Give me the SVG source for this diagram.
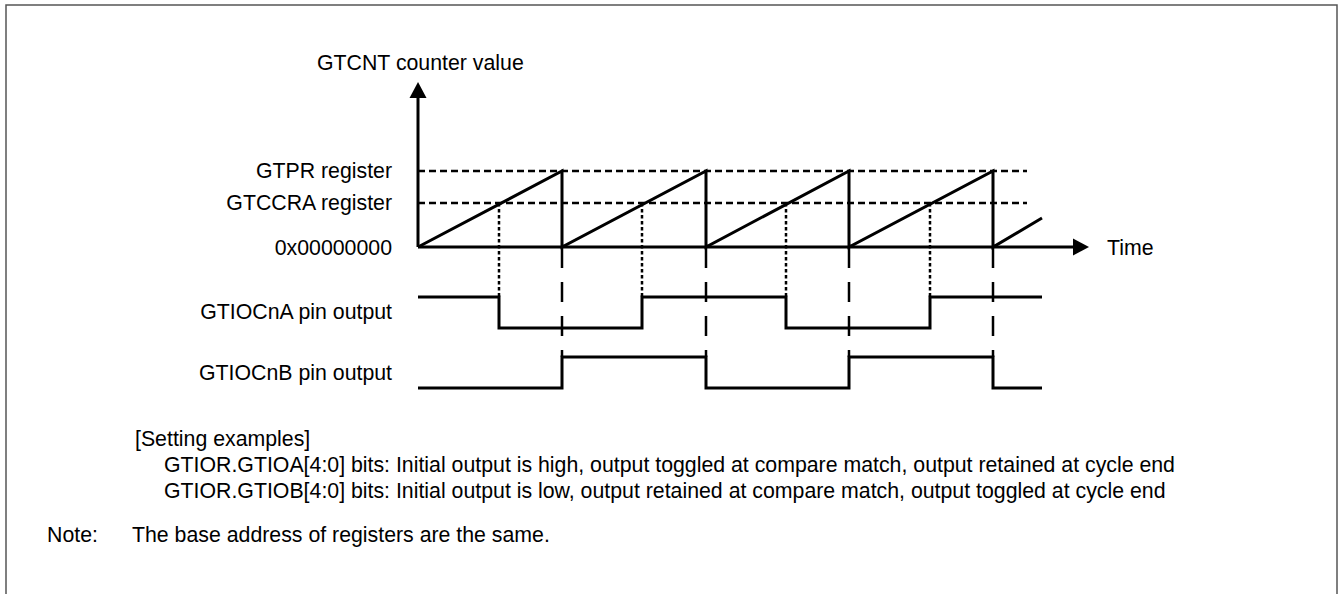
<svg xmlns="http://www.w3.org/2000/svg" width="1340" height="594" viewBox="0 0 1340 594">
<style>
text{font-family:"Liberation Sans",Arial,sans-serif;font-size:21.3px;fill:#000}
.end{text-anchor:end}
.w{fill:none;stroke:#000;stroke-width:3}
.ref{fill:none;stroke:#000;stroke-width:2.3;stroke-dasharray:7 4}
.dot{fill:none;stroke:#000;stroke-width:2.5;stroke-dasharray:3.5 2.5}
.ld{fill:none;stroke:#000;stroke-width:2.5;stroke-dasharray:20 14}
</style>
<rect width="1340" height="594" fill="#fff"/>
<path d="M6,600 V5 H1337 V600" fill="none" stroke="#555" stroke-width="1.5"/>
<g id="axes">
<line x1="418" y1="247" x2="418" y2="96" stroke="#000" stroke-width="3"/>
<polygon points="418,82 409.5,98 426.5,98" fill="#000"/>
<line x1="418" y1="247" x2="1075" y2="247" stroke="#000" stroke-width="3"/>
<polygon points="1089,247 1073,238.5 1073,255.5" fill="#000"/>
</g>
<g id="reference-levels">
<line class="ref" x1="418" y1="171" x2="1027" y2="171"/>
<line class="ref" x1="418" y1="203" x2="1027" y2="203"/>
</g>
<g id="counter">
<path class="w" d="M418,247 L562,171 V247 L706,171 V247 L849,171 V247 L993,171 V247 L1042,218"/>
</g>
<g id="markers">
<line class="dot" x1="499" y1="203" x2="499" y2="297"/>
<line class="dot" x1="642" y1="203" x2="642" y2="297"/>
<line class="dot" x1="786" y1="203" x2="786" y2="297"/>
<line class="dot" x1="930" y1="203" x2="930" y2="297"/>
<line class="ld" x1="562" y1="248" x2="562" y2="357"/>
<line class="ld" x1="706" y1="248" x2="706" y2="357"/>
<line class="ld" x1="849" y1="248" x2="849" y2="357"/>
<line class="ld" x1="993" y1="248" x2="993" y2="357"/>
</g>
<g id="gtiocna">
<path class="w" d="M418,297 H499 V328 H642 V297 H786 V328 H930 V297 H1042"/>
</g>
<g id="gtiocnb">
<path class="w" d="M418,388 H562 V357 H706 V388 H849 V357 H993 V388 H1042"/>
</g>
<g id="labels">
<text x="317" y="70">GTCNT counter value</text>
<text class="end" x="392" y="178">GTPR register</text>
<text class="end" x="392" y="210">GTCCRA register</text>
<text class="end" x="392" y="255">0x00000000</text>
<text x="1107" y="255">Time</text>
<text class="end" x="392" y="319">GTIOCnA pin output</text>
<text class="end" x="392" y="380">GTIOCnB pin output</text>
</g>
<g id="notes">
<text x="135" y="446">[Setting examples]</text>
<text x="164" y="472">GTIOR.GTIOA[4:0] bits: Initial output is high, output toggled at compare match, output retained at cycle end</text>
<text x="164" y="498">GTIOR.GTIOB[4:0] bits: Initial output is low, output retained at compare match, output toggled at cycle end</text>
<text x="47" y="542">Note:</text>
<text x="132" y="542">The base address of registers are the same.</text>
</g>
</svg>
